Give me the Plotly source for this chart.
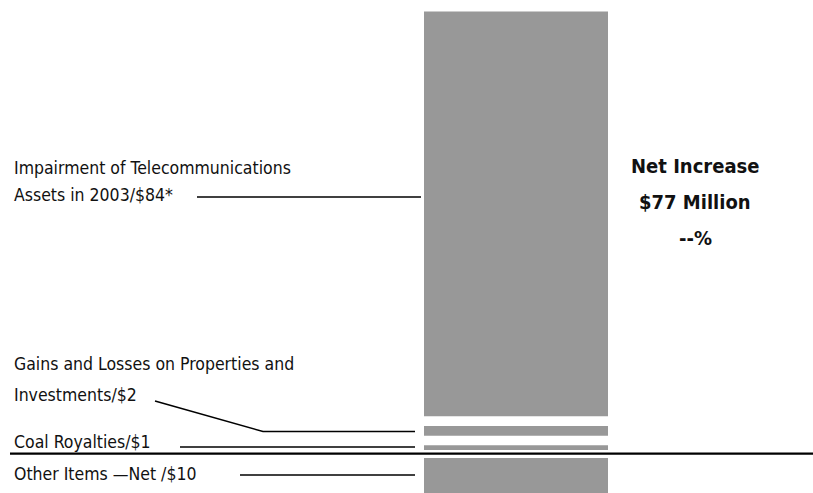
import plotly.graph_objects as go

# Components of the change in net income, $ millions
categories = [
    "Coal Royalties",
    "Gains and Losses on Properties and Investments",
    "Impairment of Telecommunications Assets in 2003",
    "Other Items \u2014 Net",
]
values = [1, 2, 84, -10]
net_total = sum(values)  # 77

W, H = 813, 493
BAR_COLOR = "#989898"
FONT = "Liberation Sans Narrow, DejaVu Sans Condensed, Arial Narrow, sans-serif"

# visual spacing between stacked pieces (data units)
GAP_BASE = 0.75
GAP_STACK = 2.0
GAP_NEG = 0.9

# stack positives upward from the baseline, negatives hang below it
bases = []
top = GAP_BASE
bottom = -GAP_NEG
for v in values:
    if v >= 0:
        bases.append(top)
        top += v + GAP_STACK
    else:
        bases.append(bottom)
        bottom += v - GAP_STACK

fig = go.Figure()
fig.add_trace(go.Bar(
    x=[0] * len(values),
    y=values,
    base=bases,
    width=1,
    marker=dict(color=BAR_COLOR, line=dict(width=0)),
    hovertext=categories,
    showlegend=False,
))


def px(xp, yp):
    """pixel position -> paper coordinates"""
    return xp / W, 1 - yp / H


annotations = []


def label(text, xp, yp, size=17.5, bold=False, anchor="left"):
    x, y = px(xp, yp)
    if bold:
        text = "<b>" + text + "</b>"
    annotations.append(dict(
        text=text, x=x, y=y, xref="paper", yref="paper",
        xanchor=anchor, yanchor="middle", showarrow=False,
        font=dict(family=FONT, size=size, color="#111111"),
    ))


label("Impairment of Telecommunications", 12, 168)
label("Assets in 2003/$84*", 12, 195)
label("Gains and Losses on Properties and", 12, 364)
label("Investments/$2", 12, 395)
label("Coal Royalties/$1", 12, 442)
label("Other Items \u2014Net /$10", 12, 474)

label("Net Increase", 695, 166, size=20, bold=True, anchor="center")
label(f"${net_total} Million", 695, 202, size=20, bold=True, anchor="center")
label("--%", 695, 238, size=20, bold=True, anchor="center")

shapes = []


def leader(points, width=1.6):
    path = ""
    for i, (xp, yp) in enumerate(points):
        x, y = px(xp, yp)
        path += ("M" if i == 0 else "L") + f"{x},{y} "
    shapes.append(dict(type="path", path=path.strip(), xref="paper", yref="paper",
                       line=dict(color="black", width=width)))


leader([(197, 197), (421, 197)])
leader([(155, 401), (263, 431.5), (415, 431.5)])
leader([(180, 447), (415, 447)])
leader([(240, 475), (415, 475)])

# zero baseline across the chart
shapes.append(dict(type="line", xref="paper", yref="y", x0=10 / W, x1=1, y0=0, y1=0,
                   line=dict(color="black", width=2.2)))

# scale: data units per pixel chosen so the largest piece spans the bar height
s = 4.82
zero_px = 453.7
fig.update_layout(
    width=W, height=H,
    margin=dict(l=0, r=0, t=0, b=0),
    paper_bgcolor="white", plot_bgcolor="white",
    barmode="overlay",
    xaxis=dict(range=[-516 / 184, (W - 516) / 184], visible=False, fixedrange=True),
    yaxis=dict(range=[-(H - zero_px) / s, zero_px / s], visible=False, fixedrange=True),
    annotations=annotations,
    shapes=shapes,
)

fig.write_html("out.html")
